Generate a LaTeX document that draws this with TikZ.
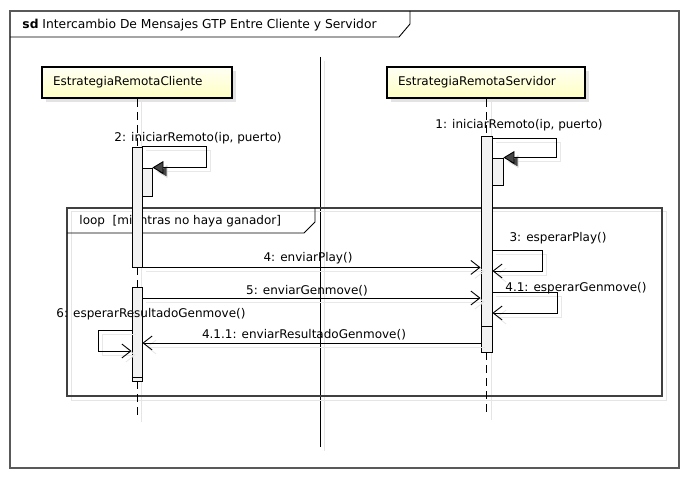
\documentclass[tikz,border=0pt]{standalone}
\usepackage{fontspec}
\setmainfont{DejaVu Sans}
\usetikzlibrary{arrows.meta,shadows}
\begin{document}
\begin{tikzpicture}[x=1pt,y=-1pt,line width=0.9pt,font=\fontsize{12}{14}\selectfont,
  lifebox/.style={draw,line width=2pt,top color=yellow!4,bottom color=yellow!24,
    minimum height=31pt,inner xsep=11pt,align=left,
    drop shadow={shadow xshift=4pt,shadow yshift=-4pt,fill=gray!22,opacity=1}},
  actbar/.style={draw,fill=gray!10,minimum width=10pt,inner sep=0pt},
  lbl/.style={inner sep=0pt,anchor=base},
  shade/.style={preaction={draw=gray!18,transform canvas={shift={(4pt,-4pt)}}}},
  msg/.style={shade,-{Straight Barb[length=9pt,width=14pt]}},
  syncmsg/.style={shade,-{Triangle[length=11pt,width=13pt,fill=gray!55!black]}},
  lifeline/.style={dash pattern=on 8pt off 5pt},
  shadeline/.style={gray!20,line width=1pt}]
\useasboundingbox (0,0) rectangle (688,478);
% frames
\draw[black!65,line width=1.5pt] (10,11) rectangle (679,468);
\draw (10,37) -- (399,37) -- (410,24) -- (410,11);
\node[lbl,anchor=base west,font=\fontsize{12.3}{14}\selectfont] (title) at (22,29) {\textbf{sd} Intercambio De Mensajes GTP Entre Cliente y Servidor};
\draw[shadeline] (324,61) -- (324,451); \draw (320,57) -- (320,447);
\draw[shadeline] (141,100) -- (141,422); \draw[shadeline] (491,100) -- (491,420);
\draw[shadeline] (71,212) rectangle (666,400);
\draw[black!75,line width=1.5pt] (67,208) rectangle (662,396);
\draw (67,233) -- (304,233) -- (315,222) -- (315,208);
\node[lbl,anchor=base west] (loop) at (79,225) {loop\ \ [mientras no haya ganador]};
% lifelines
\node[lifebox,text width=168pt] (cli) at (137,82.5) {EstrategiaRemotaCliente};
\node[lifebox,text width=176pt] (srv) at (486,82.5) {EstrategiaRemotaServidor};
\node[actbar,minimum height=120pt] (c1) at (137,207) {};
\node[actbar,minimum height=28pt] (c1n) at (147,182) {};
\node[actbar,minimum height=90pt] (c2) at (137,332) {};
\node[actbar,minimum height=4pt] (c2b) at (137,379) {};
\node[actbar,minimum width=11pt,minimum height=190pt] (s1) at (486.5,231) {};
\node[actbar,minimum width=11pt,minimum height=26pt] (s1b) at (486.5,339) {};
\node[actbar,minimum width=11pt,minimum height=27pt] (s1n) at (497.5,171.5) {};
\coordinate (cend) at (137,418); \coordinate (send) at (486.5,416);
\draw[lifeline] (cli.south) -- (c1.north); \draw[lifeline] (c1.south) -- (c2.north);
\draw[lifeline] (c2b.south) -- (cend);
\draw[lifeline] (s1.north |- srv.south) -- (s1.north); \draw[lifeline] (s1b.south) -- (send);
% messages
\coordinate (r3) at (0,250); \coordinate (r41) at (0,292); \coordinate (r5) at (0,298);
\coordinate (r6) at (0,330); \coordinate (r411) at (0,343);
\draw[syncmsg] (c1.north east) -- ++(64,0) |- (c1n.north east);
\draw[syncmsg] ([yshift=-3pt]s1.north east) -- ++(64,0) |- (s1n.north east);
\draw[msg] (s1.east |- r3) -- ++(50,0) -- ++(0,21) -- ++(-50,0);
\draw[msg] (c1.south east) -- (s1.west |- c1.south east);
\draw[msg] (s1.east |- r41) -- ++(65,0) -- ++(0,21) -- ++(-65,0);
\draw[msg] (c2.east |- r5) -- (s1.west |- r5);
\draw[msg] (s1b.west |- r411) -- (c2.east |- r411);
\draw[msg] (c2.west |- r6) -- ++(-33,0) -- ++(0,21) -- ++(33,0);
\node[lbl] (l2) at (198,142) {2: iniciarRemoto(ip, puerto)};
\node[lbl] (l1) at (519,129) {1: iniciarRemoto(ip, puerto)};
\node[lbl] (l3) at (558,242) {3: esperarPlay()};
\node[lbl] (l4) at (308,262) {4: enviarPlay()};
\node[lbl] (l41) at (576,291) {4.1: esperarGenmove()};
\node[lbl] (l5) at (307,295) {5: enviarGenmove()};
\node[lbl] (l6) at (151,318) {6: esperarResultadoGenmove()};
\node[lbl] (l411) at (304,338) {4.1.1: enviarResultadoGenmove()};
\end{tikzpicture}
\end{document}
